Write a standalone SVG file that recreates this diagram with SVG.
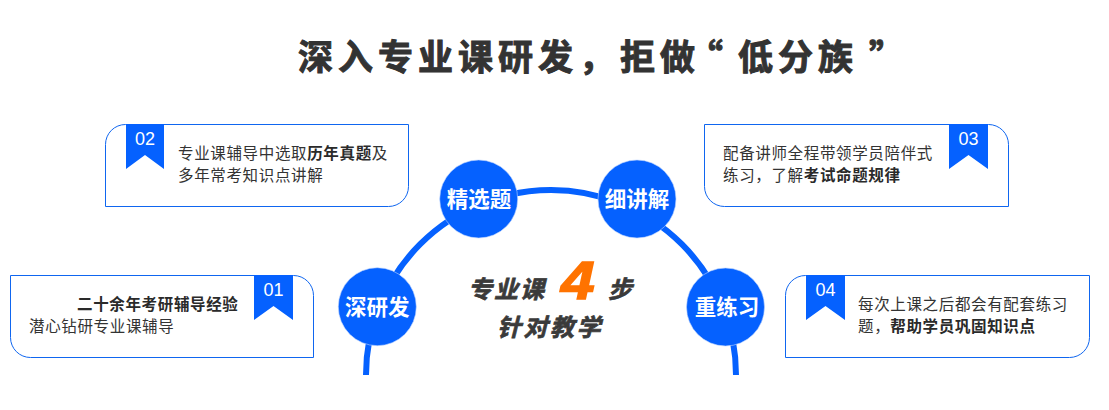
<svg xmlns="http://www.w3.org/2000/svg" width="1109" height="410" viewBox="0 0 1109 410">
<style>
text{font-family:"Noto Sans CJK SC","Liberation Sans",sans-serif}
.box{fill:#fff;stroke:#0f66f0;stroke-width:1}
.rib{fill:#0561ff}
.num{font-family:"Liberation Sans",Arial,sans-serif;font-size:18px;fill:#fff;text-anchor:middle}
.body{font-size:15.500px;letter-spacing:.65px;fill:#333}
.body tspan.b{font-weight:700;fill:#2a2a2a}
.dot{fill:#0561ff;stroke:#bcd3ff;stroke-width:.6}
.lab{font-size:21.500px;font-weight:700;fill:#fff;text-anchor:middle}
.title{font-size:35px;font-weight:700;fill:#333;stroke:#333;stroke-width:1}
.mid{font-size:24px;font-weight:700;fill:#3a3a3a;stroke:#3a3a3a;stroke-width:.7;font-style:italic}
.arc{fill:none;stroke:#0561ff;stroke-width:6}
</style>
<rect width="1109" height="410" fill="#fff"/>
<text id="title" class="title" y="70" x="298 338 378 418 458 498 538 579 620 660 688 738 778 818 869">深入专业课研发，拒做“低分族”</text>
<g id="connectors"><path class="arc" d="M366 375A185 185 0 0 1 736 375"/></g>
<g id="node-02">
<path class="box" d="M125.500 124.500H408.500V186.500A20 20 0 0 1 388.500 206.500H105.500V144.500A20 20 0 0 1 125.500 124.500Z"/>
<path class="rib" d="M126 124H164V169L145 155L126 169Z"/>
<text class="num" x="145" y="145">02</text>
<text class="body" x="178" y="159">专业课辅导中选取<tspan class="b">历年真题</tspan>及</text>
<text class="body" x="178" y="181">多年常考知识点讲解</text>
</g>
<g id="node-01">
<path class="box" d="M10.500 275.500H293.500A20 20 0 0 1 313.500 295.500V357.500H30.500A20 20 0 0 1 10.500 337.500Z"/>
<path class="rib" d="M254 275H293V320L273.500 306L254 320Z"/>
<text class="num" x="273.500" y="296">01</text>
<text class="body" x="77" y="310"><tspan class="b">二十余年考研辅导经验</tspan></text>
<text class="body" x="29" y="332">潜心钻研专业课辅导</text>
</g>
<g id="node-03">
<path class="box" d="M704.500 124.500H988.500A20 20 0 0 1 1008.500 144.500V206.500H724.500A20 20 0 0 1 704.500 186.500Z"/>
<path class="rib" d="M949 124H988V169L968.500 155L949 169Z"/>
<text class="num" x="968.500" y="145">03</text>
<text class="body" x="723" y="159">配备讲师全程带领学员陪伴式</text>
<text class="body" x="723" y="181">练习，了解<tspan class="b">考试命题规律</tspan></text>
</g>
<g id="node-04">
<path class="box" d="M805.500 275.500H1089.500V337.500A20 20 0 0 1 1069.500 357.500H785.500V295.500A20 20 0 0 1 805.500 275.500Z"/>
<path class="rib" d="M806 275H845V320L825.500 306L806 320Z"/>
<text class="num" x="825.500" y="296">04</text>
<text class="body" x="858" y="310">每次上课之后都会有配套练习</text>
<text class="body" x="858" y="332">题，<tspan class="b">帮助学员巩固知识点</tspan></text>
</g>
<g id="step-1"><circle class="dot" cx="377.300" cy="306.700" r="39"/><text class="lab" x="377.300" y="315">深研发</text></g>
<g id="step-2"><circle class="dot" cx="478.700" cy="199" r="39"/><text class="lab" x="479" y="207">精选题</text></g>
<g id="step-3"><circle class="dot" cx="637" cy="199" r="39"/><text class="lab" x="637" y="207">细讲解</text></g>
<g id="step-4"><circle class="dot" cx="725.500" cy="307" r="39"/><text class="lab" x="727" y="315">重练习</text></g>
<g id="center">
<text class="mid" x="468" y="298" letter-spacing="2">专业课</text>
<text transform="translate(561 299) scale(1.12 1)" font-size="54" font-weight="700" font-style="italic" fill="#ff7300" stroke="#ff7300" stroke-width="1.500" style="font-family:'Liberation Sans',sans-serif">4</text>
<text class="mid" x="608" y="298">步</text>
<text class="mid" x="497" y="336" letter-spacing="2.500">针对教学</text>
</g>
</svg>
